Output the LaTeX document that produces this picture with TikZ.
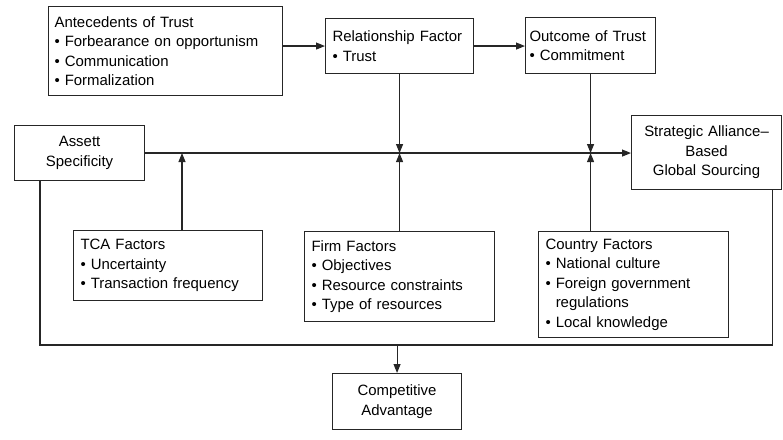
\documentclass[tikz,border=0pt]{standalone}
\usepackage{fontspec}
\setmainfont{Liberation Sans}
\usetikzlibrary{arrows.meta, positioning}

\begin{document}
\begin{tikzpicture}[x=1bp, y=-1bp,
   box/.style={draw=black!85, line width=1.1bp, anchor=north west, align=left,
               inner xsep=7bp, inner ysep=0pt, font=\fontsize{15}{19.5}\selectfont},
   cbox/.style={box, align=center},
   link/.style={draw=black!85, line width=1.1bp},
   arr/.style={link, -{Triangle[length=9bp, width=7bp]}}]

\useasboundingbox (0,0) rectangle (783,440);

% top row
\node[box, text width=222bp, minimum height=89bp, inner xsep=6bp] (ante) at (48,6)
     {Antecedents of Trust\\\textbullet\ Forbearance on opportunism\\
      \textbullet\ Communication\\\textbullet\ Formalization};
\node[box, text width=134bp, minimum height=55bp] (rel) at (325,18)
     {Relationship Factor\\\textbullet\ Trust};
\node[box, text width=122bp, minimum height=56bp, inner xsep=4bp] (out) at (525,17)
     {Outcome of Trust\\\textbullet\ Commitment};

% middle row
\node[cbox, text width=116bp, minimum height=55bp] (asset) at (14,125)
     {Assett\\Specificity};
\node[cbox, text width=136bp, minimum height=74bp] (strat) at (631,115)
     {Strategic Alliance--\\Based\\Global Sourcing};

% bottom row
\node[box, text width=175bp, minimum height=70bp] (tca) at (73,230)
     {TCA Factors\\\textbullet\ Uncertainty\\\textbullet\ Transaction frequency};
\node[box, text width=176bp, minimum height=90bp] (firm) at (304,231)
     {Firm Factors\\\textbullet\ Objectives\\\textbullet\ Resource constraints\\
      \textbullet\ Type of resources};
\node[box, text width=176bp, minimum height=106bp] (ctry) at (538,231)
     {Country Factors\\\textbullet\ National culture\\\textbullet\ Foreign government\\
      \phantom{\textbullet\ }regulations\\\textbullet\ Local knowledge};
\node[cbox, text width=115bp, minimum height=56bp] (comp) at (332,373)
     {Competitive\\Advantage};

% connectors
\draw[arr] (rel.west -| ante.east) -- (rel.west);
\draw[arr] (rel.east) -- (rel.east -| out.west);
\draw[arr] (asset.east) -- (asset.east -| strat.west);

\coordinate (tcaTop) at (182,230);
\draw[arr] (tcaTop) -- (tcaTop |- asset.east);
\draw[arr] (rel.south) -- (rel.south |- asset.east);
\draw[arr] (firm.north) -- (firm.north |- asset.east);
\draw[arr] (out.south) -- (out.south |- asset.east);
\draw[arr] (ctry.north -| out.south) -- (out.south |- asset.east);

% feedback loop to competitive advantage
\coordinate (loopL) at ([xshift=26bp]asset.south west);
\coordinate (loopR) at ([xshift=-10bp]strat.south east);
\coordinate (base) at (0,345);
\draw[link] (loopL) |- (base -| loopR) -- (loopR);
\draw[arr] (base -| comp.north) -- (comp.north);
\end{tikzpicture}
\end{document}
